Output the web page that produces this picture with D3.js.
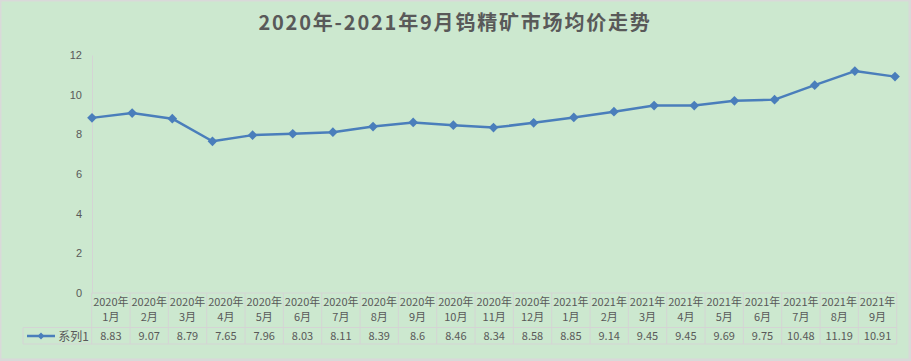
<!DOCTYPE html>
<html>
<head>
<meta charset="utf-8">
<script src="https://cdn.jsdelivr.net/npm/d3@7"></script>
<style>
    body { margin: 0; background: #d9d9d9; }
    svg { display: block; }
</style>
</head>
<body>
<script>
    // data
    var months = ["2020年1月", "2020年2月", "2020年3月", "2020年4月", "2020年5月", "2020年6月",
        "2020年7月", "2020年8月", "2020年9月", "2020年10月", "2020年11月", "2020年12月",
        "2021年1月", "2021年2月", "2021年3月", "2021年4月", "2021年5月", "2021年6月",
        "2021年7月", "2021年8月", "2021年9月"];
    var prices = [8.83, 9.07, 8.79, 7.65, 7.96, 8.03, 8.11, 8.39, 8.6, 8.46, 8.34, 8.58,
        8.85, 9.14, 9.45, 9.45, 9.69, 9.75, 10.48, 11.19, 10.91];
    var yTicks = [0, 2, 4, 6, 8, 10, 12];
    var seriesName = "系列1";
    var title = "2020年-2021年9月钨精矿市场均价走势";

    var width = 911, height = 361;
    var lineColor = "#4a7ebb",
        textColor = "#595959",
        gridColor = "#d4d4d4";

    var svg = d3.select("body").append("svg")
        .attr("width", width)
        .attr("height", height)
        .style("font-family", "'Noto Sans CJK SC', 'Liberation Sans', sans-serif");

    // chart background with gray frame
    svg.append("rect")
        .attr("x", 1).attr("y", 1)
        .attr("width", width - 3).attr("height", height - 3)
        .attr("fill", "#cce8cf")
        .attr("stroke", "#d9d9d9")
        .attr("stroke-width", 1);

    svg.append("text")
        .attr("x", 455)
        .attr("y", 30)
        .attr("text-anchor", "middle")
        .attr("fill", textColor)
        .style("font-size", "20px")
        .style("font-weight", "bold")
        .style("letter-spacing", "1.8px")
        .text(title);

    var plotLeft = 92, plotRight = 895,
        tableLeft = 91.7, tableRight = 896.7,
        yTop = 55, yBottom = 293;

    var x = d3.scalePoint()
        .domain(months)
        .range([plotLeft, plotRight]);

    var xBand = d3.scaleBand()
        .domain(months)
        .range([tableLeft, tableRight]);

    var y = d3.scaleLinear()
        .domain([0, 12])
        .range([yBottom, yTop]);

    // y axis
    var yAxis = d3.axisLeft(y)
        .tickValues(yTicks)
        .tickSize(0)
        .tickPadding(10);

    var axis = svg.append("g")
        .attr("transform", "translate(" + plotLeft + ",0)")
        .call(yAxis);
    axis.select(".domain").attr("stroke", gridColor);
    axis.selectAll("text")
        .attr("fill", textColor)
        .style("font-size", "11px");

    // data table
    var rowTop = yBottom, rowMid = 327.5, rowBottom = 344;
    var table = svg.append("g").attr("class", "table");

    table.append("line")
        .attr("x1", tableLeft).attr("x2", tableRight)
        .attr("y1", rowTop).attr("y2", rowTop)
        .attr("stroke", gridColor);
    table.append("line")
        .attr("x1", 23).attr("x2", tableRight)
        .attr("y1", rowMid).attr("y2", rowMid)
        .attr("stroke", gridColor);
    table.append("line")
        .attr("x1", 23).attr("x2", tableRight)
        .attr("y1", rowBottom).attr("y2", rowBottom)
        .attr("stroke", gridColor);
    table.append("line")
        .attr("x1", 23).attr("x2", 23)
        .attr("y1", rowMid).attr("y2", rowBottom)
        .attr("stroke", gridColor);

    var edges = months.map(function (d) { return xBand(d); }).concat([tableRight]);
    table.selectAll(".vline")
        .data(edges)
        .enter()
        .append("line")
        .attr("class", "vline")
        .attr("x1", function (d) { return d; })
        .attr("x2", function (d) { return d; })
        .attr("y1", rowTop)
        .attr("y2", rowBottom)
        .attr("stroke", gridColor);

    var headers = table.selectAll(".header")
        .data(months)
        .enter()
        .append("text")
        .attr("class", "header")
        .attr("text-anchor", "middle")
        .attr("fill", textColor)
        .style("font-size", "11px");
    headers.append("tspan")
        .attr("x", function (d) { return xBand(d) + xBand.bandwidth() / 2; })
        .attr("y", 306)
        .text(function (d) { return d.slice(0, 5); });
    headers.append("tspan")
        .attr("x", function (d) { return xBand(d) + xBand.bandwidth() / 2; })
        .attr("y", 321)
        .text(function (d) { return d.slice(5); });

    table.selectAll(".val")
        .data(prices)
        .enter()
        .append("text")
        .attr("class", "val")
        .attr("x", function (d, i) { return xBand(months[i]) + xBand.bandwidth() / 2; })
        .attr("y", 340)
        .attr("text-anchor", "middle")
        .attr("fill", textColor)
        .style("font-size", "11px")
        .text(function (d) { return d; });

    // legend key in the table
    table.append("line")
        .attr("x1", 27).attr("x2", 55)
        .attr("y1", 336).attr("y2", 336)
        .attr("stroke", lineColor)
        .attr("stroke-width", 2.5);
    table.append("path")
        .attr("d", d3.symbol().type(d3.symbolDiamond2).size(30)())
        .attr("transform", "translate(41,336)")
        .attr("fill", lineColor);
    table.append("text")
        .attr("x", 89)
        .attr("y", 341)
        .attr("text-anchor", "end")
        .attr("fill", textColor)
        .style("font-size", "12px")
        .text(seriesName);

    // series line
    var line = d3.line()
        .x(function (d, i) { return x(months[i]); })
        .y(function (d) { return y(d); });

    svg.append("path")
        .datum(prices)
        .attr("d", line)
        .attr("fill", "none")
        .attr("stroke", lineColor)
        .attr("stroke-width", 2.5)
        .attr("stroke-linejoin", "round");

    svg.selectAll(".marker")
        .data(prices)
        .enter()
        .append("path")
        .attr("class", "marker")
        .attr("d", d3.symbol().type(d3.symbolDiamond2).size(60)())
        .attr("transform", function (d, i) {
            return "translate(" + x(months[i]) + "," + y(d) + ")";
        })
        .attr("fill", lineColor);
</script>
</body>
</html>
